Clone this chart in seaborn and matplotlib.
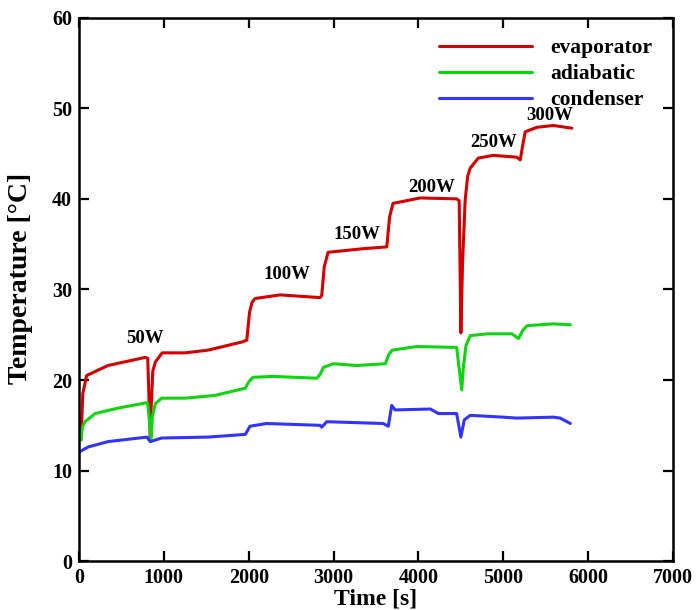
import matplotlib
matplotlib.use('Agg')
import matplotlib.pyplot as plt
import pandas as pd
import seaborn as sns

# Values
evap_t = [24, 45, 90, 340, 780, 810, 840, 850, 870, 900, 980, 1250, 1520, 1920, 1977, 2010, 2040,
          2075, 2370, 2840, 2860, 2890, 2935, 3350, 3627, 3660, 3700, 4020, 4450, 4480, 4500,
          4520, 4550, 4580, 4610, 4705, 4880, 5160, 5200, 5230, 5258, 5396, 5590, 5808]
evap_T = [13.4, 18.5, 20.5, 21.6, 22.5, 22.4, 13.4, 17.0, 21.0, 22.0, 23.0, 23.0, 23.3, 24.2, 24.4,
          27.5, 28.6, 29.0, 29.4, 29.1, 29.3, 32.5, 34.1, 34.5, 34.7, 38.0, 39.5, 40.1, 40.0,
          39.8, 25.2, 33.0, 39.8, 42.5, 43.4, 44.5, 44.8, 44.6, 44.3, 46.0, 47.4, 47.9, 48.1, 47.8]

adia_t = [24, 40, 70, 190, 460, 800, 810, 850, 865, 900, 975, 1250, 1600, 1960, 2000, 2050, 2290,
          2800, 2840, 2880, 3000, 3275, 3610, 3650, 3690, 3980, 4450, 4510, 4530, 4560, 4610,
          4810, 5100, 5180, 5230, 5280, 5590, 5790]
adia_T = [13.4, 14.8, 15.4, 16.3, 16.9, 17.5, 17.4, 13.4, 16.0, 17.4, 18.0, 18.0, 18.3, 19.1, 19.8,
          20.3, 20.4, 20.2, 20.6, 21.4, 21.8, 21.6, 21.8, 22.8, 23.3, 23.7, 23.6, 18.9, 21.5,
          23.8, 24.9, 25.1, 25.1, 24.6, 25.5, 26.0, 26.2, 26.1]

cond_t = [12, 105, 340, 800, 840, 975, 1520, 1960, 2015, 2210, 2840, 2860, 2920, 3585, 3645,
          3685, 3725, 4140, 4235, 4450, 4500, 4540, 4610, 5000, 5160, 5590, 5670, 5790]
cond_T = [12.1, 12.6, 13.2, 13.7, 13.2, 13.6, 13.7, 14.0, 14.9, 15.2, 15.0, 14.8, 15.4, 15.2, 14.9,
          17.2, 16.7, 16.8, 16.3, 16.3, 13.7, 15.6, 16.1, 15.9, 15.8, 15.9, 15.8, 15.2]

labels = ['50W', '100W', '150W', '200W', '250W', '300W']
label_t = [780, 2450, 3280, 4160, 4890, 5550]
label_T = [24.6, 31.7, 36.1, 41.3, 46.2, 49.2]

df = pd.concat([
    pd.DataFrame({'t': evap_t, 'T': evap_T, 'loc': 'evaporator'}),
    pd.DataFrame({'t': adia_t, 'T': adia_T, 'loc': 'adiabatic'}),
    pd.DataFrame({'t': cond_t, 'T': cond_T, 'loc': 'condenser'}),
])

sns.set_style('ticks')
plt.rcParams['font.family'] = ['Liberation Serif', 'DejaVu Serif']
plt.rcParams['font.weight'] = 'bold'
plt.rcParams['axes.labelweight'] = 'bold'
for key in ['text.color', 'axes.labelcolor', 'xtick.color', 'ytick.color', 'axes.edgecolor']:
    plt.rcParams[key] = 'black'

fig = plt.figure(figsize=(6.96, 6.10), dpi=100)
ax = fig.add_axes([0.1135, 0.080, 0.8535, 0.891])

palette = {'evaporator': '#d40000', 'adiabatic': '#11d411', 'condenser': '#3333ff'}
sns.lineplot(data=df, x='t', y='T', hue='loc', palette=palette, linewidth=2.2, ax=ax, sort=False)

for lab, x, y in zip(labels, label_t, label_T):
    ax.text(x, y, lab, ha='center', va='center', fontsize=13.5, fontweight='bold')

ax.set_xlim(0, 7000)
ax.set_ylim(0, 60)
ax.set_xticks(range(0, 7001, 1000))
ax.set_yticks(range(0, 61, 10))
ax.set_xlabel('Time [s]', fontsize=17, labelpad=0)
ax.set_ylabel('Temperature [°C]', fontsize=20)
ax.yaxis.set_label_coords(-0.077, 0.52)
ax.tick_params(direction='in', length=7, width=1.6, labelsize=14.5, top=True, right=True, pad=5)
for s in ax.spines.values():
    s.set_linewidth(1.8)
    s.set_visible(True)

leg = ax.legend(loc='upper right', frameon=False, fontsize=15.5, handlelength=4.3,
                handletextpad=0.85, borderaxespad=0, labelspacing=0.27, bbox_to_anchor=(0.979, 0.978))
for line in leg.get_lines():
    line.set_linewidth(2.2)

fig.savefig('out.png', dpi=100)
